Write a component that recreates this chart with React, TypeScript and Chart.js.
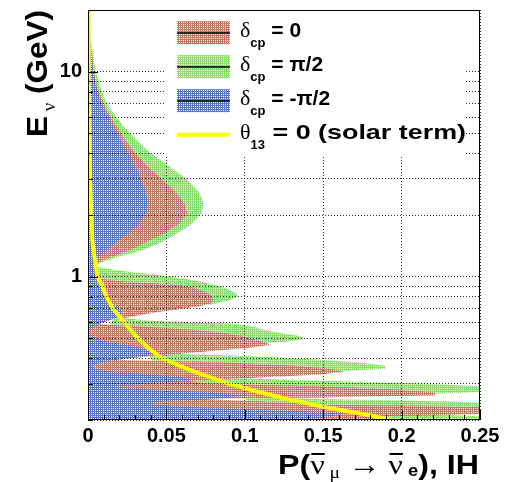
import { useEffect, useRef } from "react";
import { Chart, registerables } from "chart.js";

Chart.register(...registerables);

// ---------------- data ----------------
// Neutrino energy grid (GeV) shared by the three delta_cp bands
const energies = [
  20, 16.92, 14.31, 12.09, 10, 8.55, 7.31, 6.32, 5.46, 4.67, 4.04, 3.49, 2.99, 2.58, 2.26, 2.02, 1.8, 1.61, 1.475, 1.363, 1.275, 1.206, 1.153,
  1.115, 1.078, 1.042, 1.008, 0.975, 0.942, 0.911, 0.881, 0.852, 0.824, 0.797, 0.77, 0.745, 0.72, 0.697, 0.674, 0.651, 0.63, 0.609, 0.589,
  0.569, 0.551, 0.532, 0.515, 0.498, 0.481, 0.466, 0.45, 0.435, 0.421, 0.407, 0.394, 0.381, 0.368, 0.356, 0.344, 0.333, 0.322, 0.311,
  0.301, 0.291, 0.281, 0.272, 0.263, 0.254, 0.246, 0.238, 0.23, 0.222, 0.215, 0.208, 0.2,
];

// delta_cp = -pi/2 (blue): band from P = 0 up to blueMax
const blueMax = [
  0.0003, 0.0006, 0.0013, 0.0019, 0.0032, 0.0051, 0.0077, 0.0115, 0.0159, 0.021, 0.0255, 0.03, 0.0338, 0.037, 0.0383, 0.037, 0.0325, 0.0255,
  0.0185, 0.0128, 0.0083, 0.0057, 0.0045,
  0.0045, 0.0048, 0.0051, 0.0054, 0.0057, 0.0064, 0.0077, 0.0089, 0.0102, 0.0115, 0.0121, 0.0134, 0.0153, 0.0172, 0.0198, 0.0217, 0.0217,
  0.0185, 0.0128, 0.0077, 0.0038, 0.0013, 0.0006, 0.0019, 0.0057, 0.0128, 0.0236, 0.0332, 0.0395, 0.0408, 0.0351, 0.0191, 0.0077, 0.0032,
  0.0051, 0.0153, 0.0395, 0.0619, 0.0651, 0.0395, 0.0153, 0.0395, 0.081, 0.1014, 0.081, 0.0459, 0.0395, 0.0714, 0.1288, 0.1639, 0.1543, 0.1352,
];

// delta_cp = 0 (red)
const redMin = [
  0, 0, 0, 0, 0, 0, 0, 0, 0, 0, 0, 0, 0, 0, 0, 0, 0, 0, 0, 0, 0, 0, 0,
  0.0045, 0.0045, 0.0051, 0.0057, 0.007, 0.0102, 0.0108, 0.0108, 0.0115, 0.0115, 0.0121, 0.0128, 0.014, 0.0166, 0.0185, 0.0204, 0.0217,
  0.0223, 0.0077, 0.0013, 0, 0, 0, 0, 0.0006, 0.0019, 0.0038, 0.0057, 0.0089, 0.0153, 0.0268, 0.0032, 0.0032, 0.0038, 0.0051, 0.007,
  0.0108, 0.0191, 0.0332, 0.014, 0.0147, 0.0159, 0.0185, 0.0236, 0.0364, 0.0376, 0.0376, 0.0383, 0.0395, 0.0459, 0.1033, 0.1224,
];
const redMax = [
  0.0006, 0.001, 0.0016, 0.0026, 0.0038, 0.0057, 0.0089, 0.0128, 0.0179, 0.0236, 0.03, 0.0376, 0.0472, 0.0561, 0.0619, 0.0631, 0.058, 0.0478,
  0.0376, 0.0287, 0.0185, 0.0096, 0.0057,
  0.0048, 0.0048, 0.0054, 0.0061, 0.0077, 0.0268, 0.0574, 0.0682, 0.074, 0.0772, 0.0791, 0.0797, 0.0791, 0.0714, 0.0599, 0.0459, 0.0332,
  0.0242, 0.0083, 0.0026, 0.0395, 0.0682, 0.0874, 0.0982, 0.1052, 0.1116, 0.1167, 0.1033, 0.081, 0.0587, 0.0364, 0.014, 0.0906, 0.132,
  0.1543, 0.1633, 0.148, 0.1097, 0.0651, 0.0746, 0.1543, 0.199, 0.2213, 0.2213, 0.0714, 0.1097, 0.1543, 0.2755, 0.2755, 0.2628, 0.1862, 0.199,
];

// delta_cp = pi/2 (green)
const greenMin = [
  0, 0, 0, 0, 0, 0, 0, 0, 0, 0, 0, 0, 0, 0, 0, 0, 0, 0, 0, 0, 0, 0, 0,
  0.0051, 0.0054, 0.0057, 0.0061, 0.0064, 0.007, 0.0077, 0.0083, 0.0089, 0.0102, 0.0115, 0.0128, 0.014, 0.0153, 0.0166, 0.0179, 0.0185,
  0.0172, 0.0153, 0.014, 0.0153, 0.0166, 0.0179, 0.0198, 0.0217, 0.0236, 0.0268, 0.0319, 0.0364, 0.0395, 0.0395, 0.0408, 0.0427, 0.0446,
  0.0472, 0.051, 0.0555, 0.0619, 0.0663, 0.0689, 0.0714, 0.0746, 0.0791, 0.0874, 0.1001, 0.102, 0.1033, 0.1065, 0.1161, 0.1352, 0.148, 0.148,
];
const greenMax = [
  0.001, 0.0013, 0.0019, 0.0032, 0.0051, 0.0077, 0.0108, 0.0159, 0.0223, 0.0306, 0.0395, 0.051, 0.0631, 0.0708, 0.074, 0.0721, 0.0657, 0.0561,
  0.0472, 0.0364, 0.0236, 0.0128, 0.0064,
  0.0064, 0.0172, 0.0332, 0.0491, 0.0619, 0.0733, 0.081, 0.0874, 0.0918, 0.095, 0.095, 0.0906, 0.0829, 0.0714, 0.0587, 0.0427, 0.0281,
  0.0204, 0.0395, 0.0938, 0.1065, 0.1116, 0.1224, 0.1339, 0.1384, 0.1256, 0.0969, 0.0714, 0.0491, 0.0555, 0.1129, 0.148, 0.1722, 0.1894,
  0.1894, 0.1543, 0.1097, 0.0778, 0.148, 0.2117, 0.2564, 0.2755, 0.2436, 0.1862, 0.1352, 0.2309, 0.2755, 0.2755, 0.2117, 0.1862, 0.2628, 0.2755,
];

// theta_13 = 0 (solar term), yellow curve
const solarEnergies = [20, 10, 5, 3, 2, 1.5, 1.2, 1.0, 0.9, 0.8, 0.7, 0.6, 0.5, 0.45, 0.4, 0.35, 0.3, 0.27, 0.25, 0.23, 0.21, 0.2];
const solarProb = [
  0.0003, 0.0005, 0.0008, 0.0014, 0.0021, 0.0028, 0.0045, 0.0061, 0.0089, 0.0119, 0.0159, 0.023, 0.0319, 0.0383, 0.0472, 0.065, 0.09,
  0.1122, 0.1301, 0.1524, 0.1811, 0.1939,
];

const xTickValues = [0, 0.05, 0.1, 0.15, 0.2, 0.25];
const xTickLabels = ["0", "0.05", "0.1", "0.15", "0.2", "0.25"];
const yGridValues = [0.2, 0.3, 0.4, 0.5, 0.6, 0.7, 0.8, 0.9, 1, 2, 3, 4, 5, 6, 7, 8, 9, 10, 20];
const yTickLabels = ["", "", "", "", "", "", "", "", "1", "", "", "", "", "", "", "", "", "10", ""];
const yDecades = [1, 10];

const legendSymbols = ["δ", "δ", "δ", "θ"];
const legendSubs = ["cp", "cp", "cp", "13"];
const legendTexts = ["= 0", "= π/2", "= -π/2", "= 0 (solar term)"];

// ---------------- styles ----------------
const SANS = "'Liberation Sans', Arial, sans-serif";
const SERIF = "'Liberation Serif', 'DejaVu Serif', serif";
const RED = [222, 108, 90];
const GREEN = [118, 240, 70];
const BLUE = [80, 112, 236];
const YELLOW = "#ffff00";
// width (px) that the last legend row spans in the reference
const LEGEND_ROW4_WIDTH = 226;

function makePattern(rgb: number[]): CanvasPattern | string {
  const c = document.createElement("canvas");
  c.width = 2;
  c.height = 2;
  const g = c.getContext("2d");
  if (!g) return `rgb(${rgb.join(",")})`;
  g.fillStyle = `rgb(${rgb.join(",")})`;
  g.fillRect(0, 0, 2, 2);
  g.fillStyle = "#ffffff";
  g.fillRect(1, 0, 1, 1);
  return g.createPattern(c, "repeat") || `rgb(${rgb.join(",")})`;
}

function bandPolygon(E: number[], lo: number[] | null, hi: number[]) {
  const pts: { x: number; y: number }[] = [];
  for (let i = 0; i < E.length; i++) pts.push({ x: lo ? lo[i] : 0, y: E[i] });
  for (let i = E.length - 1; i >= 0; i--) pts.push({ x: hi[i], y: E[i] });
  return pts;
}

type Piece = { t: string; font: string; dy?: number; bar?: boolean };

function drawPieces(ctx: CanvasRenderingContext2D, pieces: Piece[], x: number, y: number, targetW?: number) {
  let total = 0;
  const widths = pieces.map((p) => {
    ctx.font = p.font;
    const w = ctx.measureText(p.t).width;
    total += w;
    return w;
  });
  ctx.save();
  ctx.translate(x, y);
  if (targetW) ctx.scale(targetW / total, 1);
  let cx = 0;
  pieces.forEach((p, i) => {
    ctx.font = p.font;
    ctx.fillText(p.t, cx, p.dy || 0);
    if (p.bar) {
      ctx.fillRect(cx + 1, -21, widths[i] - 1, 2);
    }
    cx += widths[i];
  });
  ctx.restore();
}

export default function App() {
  const ref = useRef<HTMLCanvasElement | null>(null);

  useEffect(() => {
    const canvas = ref.current;
    if (!canvas) return;
    const redPat = makePattern(RED);
    const greenPat = makePattern(GREEN);
    const bluePat = makePattern(BLUE);
    const pats = [redPat, greenPat, bluePat];

    const overlay = {
      id: "overlay",
      afterDraw(chart: any) {
        const ctx: CanvasRenderingContext2D = chart.ctx;
        const a = chart.chartArea;
        const xs = chart.scales.x;
        const ys = chart.scales.y;
        ctx.save();

        // legend
        const lx = a.left + 76;
        ctx.fillStyle = "#ffffff";
        ctx.fillRect(lx, a.top + 1, 302, 144);
        for (let i = 0; i < 4; i++) {
          const cy = a.top + 22.7 + i * 34;
          const sx = lx + 13;
          if (i < 3) {
            ctx.fillStyle = pats[i] as any;
            ctx.fillRect(sx, cy - 11.5, 53, 23);
            ctx.fillStyle = "#000";
            ctx.fillRect(sx, cy - 0.5, 53, 1.5);
          } else {
            ctx.fillStyle = YELLOW;
            ctx.fillRect(sx, cy - 2, 53, 4);
          }
          ctx.fillStyle = "#000";
          ctx.textBaseline = "alphabetic";
          ctx.textAlign = "left";
          const head: Piece[] = [
            { t: legendSymbols[i], font: `22px ${SERIF}` },
            { t: legendSubs[i], font: `bold 13px ${SANS}`, dy: 10 },
          ];
          drawPieces(ctx, head, lx + 76, cy + 4.5);
          let hw = 0;
          head.forEach((p) => {
            ctx.font = p.font;
            hw += ctx.measureText(p.t).width;
          });
          const body: Piece[] = [{ t: " " + legendTexts[i], font: `bold 21px ${SANS}` }];
          const restW = i === 3 ? LEGEND_ROW4_WIDTH - hw : undefined;
          drawPieces(ctx, body, lx + 76 + hw, cy + 4.5, restW);
        }

        // ticks inside the frame
        ctx.strokeStyle = "#000";
        ctx.lineWidth = 1;
        ctx.beginPath();
        for (let k = 0; k <= 25; k++) {
          const v = k / 100;
          const px = Math.round(xs.getPixelForValue(v)) + 0.5;
          const len = k % 5 === 0 ? 10 : 5;
          ctx.moveTo(px, a.bottom);
          ctx.lineTo(px, a.bottom - len);
        }
        yGridValues.forEach((v) => {
          const py = Math.round(ys.getPixelForValue(v)) + 0.5;
          const len = yDecades.includes(v) ? 10 : 5;
          ctx.moveTo(a.left, py);
          ctx.lineTo(a.left + len, py);
        });
        ctx.stroke();

        // frame
        ctx.strokeRect(a.left + 0.5, a.top + 0.5, a.right - a.left - 1, a.bottom - a.top - 1);

        // x title
        ctx.fillStyle = "#000";
        drawPieces(
          ctx,
          [
            { t: "P(", font: `bold 28px ${SANS}` },
            { t: "ν", font: `28px ${SERIF}`, bar: true },
            { t: " μ", font: `17px ${SERIF}`, dy: 4 },
            { t: " → ", font: `28px ${SERIF}` },
            { t: "ν", font: `28px ${SERIF}`, bar: true },
            { t: " e", font: `bold 16px ${SANS}`, dy: 2 },
            { t: "), IH", font: `bold 28px ${SANS}` },
          ],
          278,
          474,
          201
        );

        // y title
        ctx.save();
        ctx.translate(47, 137);
        ctx.rotate(-Math.PI / 2);
        drawPieces(
          ctx,
          [
            { t: "E", font: `bold 30px ${SANS}` },
            { t: " ν", font: `18px ${SERIF}`, dy: 8 },
            { t: " (GeV)", font: `bold 30px ${SANS}` },
          ],
          0,
          0,
          127
        );
        ctx.restore();

        ctx.restore();
      },
    };

    const chart = new Chart(canvas, {
      type: "scatter",
      data: {
        datasets: [
          {
            label: "θ13 = 0 (solar term)",
            data: solarEnergies.map((e, i) => ({ x: solarProb[i], y: e })),
            showLine: true,
            borderColor: YELLOW,
            borderWidth: 4,
            pointRadius: 0,
            fill: false,
            order: 0,
          },
          {
            label: "δcp = -π/2",
            data: bandPolygon(energies, null, blueMax),
            showLine: true,
            borderColor: "rgba(0,0,0,0)",
            borderWidth: 1,
            borderDash: [2, 2],
            backgroundColor: bluePat as any,
            pointRadius: 0,
            fill: "shape",
            order: 1,
          },
          {
            label: "δcp = 0",
            data: bandPolygon(energies, redMin, redMax),
            showLine: true,
            borderColor: "rgba(0,0,0,0)",
            borderWidth: 1,
            borderDash: [2, 2],
            backgroundColor: redPat as any,
            pointRadius: 0,
            fill: "shape",
            order: 2,
          },
          {
            label: "δcp = π/2",
            data: bandPolygon(energies, greenMin, greenMax),
            showLine: true,
            borderColor: "rgba(0,0,0,0)",
            borderWidth: 1,
            borderDash: [2, 2],
            backgroundColor: greenPat as any,
            pointRadius: 0,
            fill: "shape",
            order: 3,
          },
        ],
      },
      options: {
        animation: false,
        responsive: false,
        maintainAspectRatio: false,
        layout: { padding: { left: 0, right: 32, top: 10, bottom: 0 } },
        plugins: { legend: { display: false }, tooltip: { enabled: false } },
        elements: { point: { radius: 0 }, line: { tension: 0 } },
        scales: {
          x: {
            type: "linear",
            min: 0,
            max: 0.25,
            afterBuildTicks: (s: any) => {
              s.ticks = xTickValues.map((v) => ({ value: v }));
            },
            afterFit: (s: any) => {
              s.height = 62;
              s.paddingLeft = 0;
              s.paddingRight = 0;
            },
            ticks: {
              autoSkip: false,
              maxRotation: 0,
              padding: 4,
              color: "#000",
              font: { family: SANS, weight: "bold", size: 20 },
              callback: (_v: any, i: number) => xTickLabels[i],
            },
            grid: { color: "rgba(0,0,0,0.8)", lineWidth: 1, drawTicks: false, z: 1 },
            border: { display: false, dash: [1, 2] },
          },
          y: {
            type: "logarithmic",
            min: 0.2,
            max: 20,
            afterBuildTicks: (s: any) => {
              s.ticks = yGridValues.map((v) => ({ value: v }));
            },
            afterFit: (s: any) => {
              s.width = 88;
              s.paddingTop = 0;
              s.paddingBottom = 0;
            },
            ticks: {
              autoSkip: false,
              padding: 6,
              color: "#000",
              font: { family: SANS, weight: "bold", size: 20 },
              callback: (_v: any, i: number) => yTickLabels[i],
            },
            grid: { color: "rgba(0,0,0,0.8)", lineWidth: 1, drawTicks: false, z: 1 },
            border: { display: false, dash: [1, 2] },
          },
        },
      },
      plugins: [overlay],
    } as any);

    return () => chart.destroy();
  }, []);

  return (
    <div style={{ position: "fixed", left: 0, top: 0, width: 512, height: 482, background: "#fff" }}>
      <canvas ref={ref} width={512} height={482} style={{ display: "block" }} />
    </div>
  );
}
